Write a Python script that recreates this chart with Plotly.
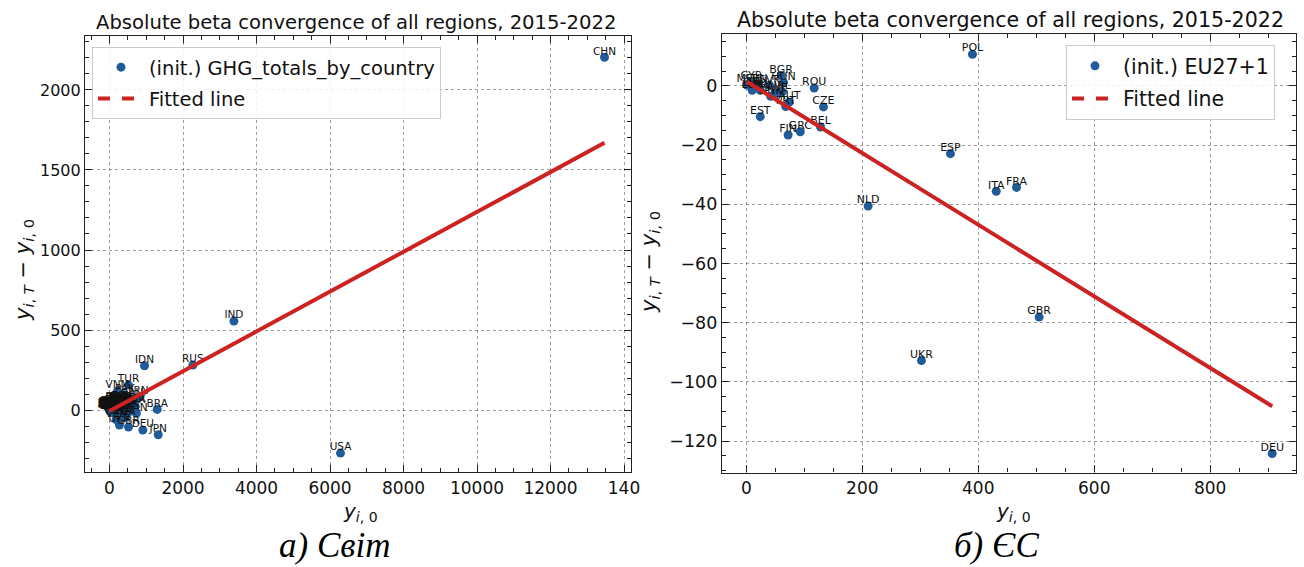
import plotly.graph_objects as go

# ------------------------------------------------------------------ data
world_countries = [
    "CHN", "USA", "IND", "RUS", "IDN", "BRA", "JPN", "DEU", "IRN", "TUR", "VNM", "UKR", "GBR",
    "MEX", "KOR", "CAN", "SAU", "AUS", "ZAF", "FRA", "ITA", "THA", "PAK",
    "EGY", "NGA", "MYS", "KAZ", "ARG", "POL", "ESP", "ARE", "IRQ", "DZA",
    "BGD", "PHL", "VEN", "COL", "UZB", "NLD",
    "CHL", "PER", "BEL", "CZE", "ROU", "KWT", "QAT", "TKM", "OMN", "MAR",
    "AUT", "GRC", "SWE", "NOR", "FIN", "ISR", "BLR", "PRK", "MMR", "ECU",
    "CUB", "NZL", "HUN", "BGR", "SRB", "PRT", "IRL", "DNK", "CHE", "SGP",
    "LBY", "SYR", "AGO", "COD", "ETH", "KEN", "TZA", "SDN", "TUN", "LKA",
    "JOR", "AZE", "BOL", "DOM", "GTM", "YEM", "NPL", "KHM", "LAO", "MNG",
    "SVK", "HRV", "SVN", "LTU", "LVA", "EST", "GEO", "ARM", "ALB", "BIH",
    "MKD", "MDA", "LBN", "CYP", "LUX", "MLT", "ISL", "PAN", "CRI", "URY",
    "PRY", "HND", "SEN", "GHA", "CIV", "CMR", "UGA", "ZMB", "ZWE", "MOZ",
    "AFG", "TJK", "KGZ", "BHR", "TTO",
]
world_x = [
    13469, 6286, 3385, 2268, 952, 1298, 1325, 907, 816, 517, 218, 272, 517,
    690, 680, 730, 620, 540, 470, 430, 410, 390, 420,
    320, 310, 300, 300, 360, 390, 330, 230, 210, 210,
    200, 170, 180, 180, 190, 200,
    110, 90, 120, 125, 115, 110, 115, 95, 95, 90,
    80, 90, 50, 50, 70, 80, 90, 80, 100, 45,
    35, 80, 65, 60, 60, 68, 62, 45, 45, 55,
    70, 40, 40, 40, 40, 30, 30, 30, 35, 25,
    28, 55, 30, 35, 25, 25, 20, 20, 25, 45,
    40, 24, 17, 20, 12, 26, 15, 10, 10, 30,
    10, 13, 25, 8, 9, 2, 5, 15, 12, 20,
    20, 15, 15, 30, 25, 25, 15, 15, 20, 15,
    20, 12, 15, 45, 40,
]
world_y = [
    2204, -269, 556, 281, 277, 4, -154, -125, 81, 156, 119, -94, -106,
    35, 25, -20, 70, -10, -5, -45, -40, 30, 95,
    55, 35, 45, 15, 5, 5, -20, 40, 45, 25,
    45, 40, -60, 15, 0, -40,
    12, 8, -12, -8, -3, 18, 30, 12, 22, 15,
    -6, -16, -5, -3, -16, 4, 3, -5, 20, 5,
    -3, 2, 2, 3, 5, -6, -2, -4, -4, 8,
    -10, -2, 8, 12, 15, 8, 10, 6, 3, 6,
    4, 5, 6, 8, 6, -5, 6, 8, 10, 15,
    0, -2, 0, -1, -2, -10, 3, 2, 1, 0,
    -1, 0, 2, 2, -3, 0, 0, 5, 3, 1,
    3, 4, 4, 10, 7, 5, 5, 4, 2, 4,
    5, 4, 3, 8, -2,
]
world_fit_slope = 0.1244
world_fit_intercept = -6.0

eu_countries = ["POL", "ROU", "CZE", "EST", "BEL", "GRC", "FIN", "ESP", "ITA", "FRA",
                "NLD", "GBR", "UKR", "DEU", "MLT", "CYP", "LUX", "LVA", "SVN", "LTU",
                "HRV", "SVK", "DNK", "SWE", "BGR", "HUN", "IRL", "PRT", "AUT"]
eu_x = [390, 117, 133, 24, 128, 93, 72, 352, 431, 466,
        210, 505, 302, 907, 1, 8, 10, 11, 17, 20,
        24, 40, 42, 50, 60, 64, 62, 68, 74]
eu_y = [10.7, -0.7, -7.1, -10.4, -13.9, -15.5, -16.6, -22.9, -35.6, -34.3,
        -40.6, -78.1, -92.8, -124.2, 0.3, 1.5, -1.5, -0.8, 0.5, -0.5,
        -1.5, 0.2, -3.5, -2.5, 3.5, 1.2, -2.0, -7.0, -5.5]
eu_fit_slope = -0.121
eu_fit_intercept = 1.5

world_xtick_vals = [0, 2000, 4000, 6000, 8000, 10000, 12000, 14000]
world_xtick_text = ["0", "2000", "4000", "6000", "8000", "10000", "12000", "140"]
world_ytick_vals = [0, 500, 1000, 1500, 2000]
eu_xtick_vals = [0, 200, 400, 600, 800]
eu_ytick_vals = [-120, -100, -80, -60, -40, -20, 0]

title_text = "Absolute beta convergence of all regions, 2015-2022"
world_legend_name = "(init.) GHG_totals_by_country"
eu_legend_name = "(init.) EU27+1"
fit_name = "Fitted line"
caption_world = "а) Світ"
caption_eu = "б) ЄС"
ytitle = "<i>y</i><sub><i>i</i>, <i>T</i></sub> − <i>y</i><sub><i>i</i>, 0</sub>"
xtitle = "<i>y</i><sub><i>i</i>, 0</sub>"

assert len(world_countries) == len(world_x) == len(world_y)
assert len(eu_countries) == len(eu_x) == len(eu_y)

# ------------------------------------------------------------------ figure
W, H = 1304, 567
MARKER = "#1f5c99"
RED = "#cc2222"
FONT = "DejaVu Sans"


def fx(p):
    return p / W


def fy(p):
    return 1 - p / H


fig = go.Figure()


def add_panel(names, xs, ys, slope, intercept, legend_name, xa, ya, leg, lblsize):
    fig.add_trace(go.Scatter(
        x=xs, y=ys, mode="markers", name=legend_name,
        marker=dict(color=MARKER, size=9, line=dict(width=0)),
        legend=leg, legendgroup=leg + "a", xaxis=xa, yaxis=ya))
    fig.add_trace(go.Scatter(
        x=xs, y=ys, mode="text", text=names, textposition="top center",
        textfont=dict(family=FONT, size=lblsize, color="#111"),
        showlegend=False, hoverinfo="skip", xaxis=xa, yaxis=ya))
    lx = [min(xs), max(xs)]
    ly = [intercept + slope * v for v in lx]
    fig.add_trace(go.Scatter(
        x=lx, y=ly, mode="lines", line=dict(color=RED, width=4),
        showlegend=False, hoverinfo="skip", xaxis=xa, yaxis=ya))
    fig.add_trace(go.Scatter(
        x=[None], y=[None], mode="lines", name=fit_name,
        line=dict(color=RED, width=4, dash="dash"),
        legend=leg, legendgroup=leg + "b", xaxis=xa, yaxis=ya))


add_panel(world_countries, world_x, world_y, world_fit_slope, world_fit_intercept,
          world_legend_name, "x", "y", "legend", 10.5)
add_panel(eu_countries, eu_x, eu_y, eu_fit_slope, eu_fit_intercept,
          eu_legend_name, "x2", "y2", "legend2", 11)


def axis(fs, minor_dtick):
    return dict(
        showline=True, linecolor="#222", linewidth=1.2, mirror="allticks",
        ticks="inside", ticklen=7, tickwidth=1, tickcolor="#222",
        showgrid=True, gridcolor="rgba(0,0,0,0.38)", griddash="dot", gridwidth=1,
        zeroline=False, tickfont=dict(family=FONT, size=fs, color="#111"),
        tickformat="d", automargin=False,
        minor=dict(ticks="inside", ticklen=4, tickwidth=1, tickcolor="#222",
                   dtick=minor_dtick, tick0=0, showgrid=False),
    )


xa1 = axis(17, 500)
xa1.update(domain=[fx(85), fx(631)], range=[-667, 14190], tickmode="array",
           tickvals=world_xtick_vals, ticktext=world_xtick_text, anchor="y")
ya1 = axis(16, 100)
ya1.update(domain=[fy(472), fy(36)], range=[-387, 2337], tickmode="array",
           tickvals=world_ytick_vals, anchor="x")
xa2 = axis(17, 50)
xa2.update(domain=[fx(722), fx(1296)], range=[-42, 948], tickmode="array",
           tickvals=eu_xtick_vals, anchor="y2")
ya2 = axis(17.5, 5)
ya2.update(domain=[fy(472.5), fy(33.5)], range=[-130.6, 17.7], tickmode="array",
           tickvals=eu_ytick_vals, anchor="x2")

legend_common = dict(
    xanchor="left", yanchor="top",
    bgcolor="rgba(255,255,255,0.85)", bordercolor="#cccccc", borderwidth=1,
    itemwidth=46, tracegroupgap=3, traceorder="grouped",
)

annotations = [
    dict(x=fx(356), y=fy(22), text=title_text, font=dict(family=FONT, size=19.6, color="#111")),
    dict(x=fx(1010), y=fy(20), text=title_text, font=dict(family=FONT, size=20.6, color="#111")),
    dict(x=fx(24), y=fy(270), text=ytitle, textangle=-90, font=dict(family=FONT, size=21, color="#111")),
    dict(x=fx(650), y=fy(262), text=ytitle, textangle=-90, font=dict(family=FONT, size=21, color="#111")),
    dict(x=fx(360), y=fy(512), text=xtitle, font=dict(family=FONT, size=20, color="#111")),
    dict(x=fx(1014), y=fy(512), text=xtitle, font=dict(family=FONT, size=20, color="#111")),
]
for a in annotations:
    a.update(yanchor="middle")
annotations += [
    dict(x=fx(334), y=fy(567), text="<i>" + caption_world + "</i>", yanchor="bottom",
         font=dict(family="Liberation Serif", size=35, color="#000")),
    dict(x=fx(996), y=fy(567), text="<i>" + caption_eu + "</i>", yanchor="bottom",
         font=dict(family="Liberation Serif", size=35, color="#000")),
]
for a in annotations:
    a.update(xref="paper", yref="paper", showarrow=False, xanchor="center")

fig.update_layout(
    width=W, height=H, margin=dict(l=0, r=0, t=0, b=0),
    paper_bgcolor="white", plot_bgcolor="white",
    xaxis=xa1, yaxis=ya1, xaxis2=xa2, yaxis2=ya2,
    legend=dict(x=fx(92), y=fy(47), font=dict(family=FONT, size=19.5, color="#111"),
                **legend_common),
    legend2=dict(x=fx(1066), y=fy(45), font=dict(family=FONT, size=20.5, color="#111"),
                 **legend_common),
    annotations=annotations,
    showlegend=True,
)

fig.write_html(
    "out.html",
    config={"displayModeBar": False},
    post_script="document.body.style.margin='0';document.body.style.overflow='hidden';",
)
